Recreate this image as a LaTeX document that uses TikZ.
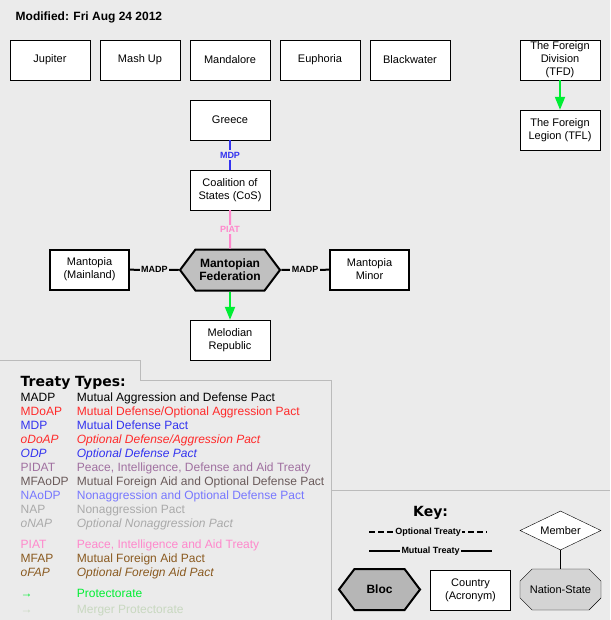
\documentclass[tikz,border=0pt]{standalone}
\usepackage{fontspec}
\setmainfont{Liberation Sans}
\newfontfamily\keyfont{DejaVu Sans}
\usetikzlibrary{shapes.symbols,shapes.geometric,shapes.misc,arrows.meta}
\definecolor{bg}{HTML}{EBEBEB}
\definecolor{panelgray}{HTML}{BBBBBB}
\definecolor{blocgray}{HTML}{C0C0C0}
\definecolor{stategray}{HTML}{D4D4D4}
\definecolor{mdoapred}{HTML}{FF2A2A}
\definecolor{mdpblue}{HTML}{3333F0}
\definecolor{pidatpurple}{HTML}{A070A0}
\definecolor{mfaodpbrown}{HTML}{6A5A5A}
\definecolor{naodpblue}{HTML}{7777FF}
\definecolor{napgray}{HTML}{AAAAAA}
\definecolor{piatpink}{HTML}{FF88CC}
\definecolor{mfapbrown}{HTML}{8A5A20}
\definecolor{protgreen}{HTML}{00EE33}
\definecolor{mergergreen}{HTML}{C8D8C0}
\begin{document}
\begin{tikzpicture}[x=1pt,y=-1pt,
  country/.style={draw,fill=white,minimum width=80,minimum height=40,inner sep=0,align=center,font=\fontsize{11}{13}\selectfont},
  bloc/.style={signal,signal to=east and west,signal pointer angle=106,draw,line width=2,fill=blocgray,minimum width=100,minimum height=41,inner sep=0,align=center,font=\bfseries\fontsize{12}{13}\selectfont},
  state/.style={chamfered rectangle,chamfered rectangle xsep=7,chamfered rectangle ysep=8,draw,fill=stategray,minimum width=81,minimum height=41,inner sep=0,font=\fontsize{11}{13}\selectfont},
  member/.style={diamond,draw,fill=white,aspect=2,minimum width=81,minimum height=39,inner sep=0,font=\fontsize{11}{13}\selectfont},
  treaty/.style={fill=bg,inner sep=1.5,font=\bfseries\fontsize{9}{10}\selectfont},
  protect/.style={draw=protgreen,line width=2,-{Triangle[length=13,width=10]}},
  panel/.style={draw=panelgray,line width=1},
  abbr/.style={anchor=base west,inner sep=0,font=\fontsize{12}{14}\selectfont},
  title/.style={anchor=base west,inner sep=0,font=\keyfont\bfseries\fontsize{14}{16}\selectfont}]
  \fill[bg] (0,0) rectangle (610,620);
  \useasboundingbox (0,0) rectangle (610,620);
  % legend panels
  \draw[panel] (0,360) -- (140.5,360) -- (140.5,380) -- (331,380) -- (331,620);
  \draw[panel] (331,490) -- (610,490);
  \node (modified) [anchor=base west,inner sep=0,font=\bfseries\fontsize{12}{14}\selectfont] at (15.5,21) {Modified: Fri Aug 24 2012};
  % top row
  \node (jupiter) [country] at (50,60) {Jupiter};
  \node (mashup) [country] at (140,60) {Mash Up};
  \node (mandalore) [country] at (230,60) {Mandalore};
  \node (euphoria) [country] at (320,60) {Euphoria};
  \node (blackwater) [country] at (410,60) {Blackwater};
  \node (tfd) [country] at (560,60) {The Foreign\\Division\\(TFD)};
  \node (tfl) [country] at (560,130) {The Foreign\\Legion (TFL)};
  % federation
  \node (greece) [country] at (230,120) {Greece};
  \node (cos) [country] at (230,190) {Coalition of\\States (CoS)};
  \node (fed) [bloc] at (230,270) {Mantopian\\Federation};
  \node (mainland) [country,line width=2,minimum width=79] at (89.5,269.5) {Mantopia\\(Mainland)};
  \node (minor) [country,line width=2,minimum width=79] at (369.5,269.5) {Mantopia\\Minor};
  \node (melodian) [country] at (230,340) {Melodian\\Republic};
  \draw[draw=mdpblue,line width=2] (greece) -- node[treaty,text=mdpblue] {MDP} (cos);
  \draw[draw=piatpink,line width=2] (cos) -- node[treaty,text=piatpink] {PIAT} (fed);
  \draw[line width=2] (mainland) -- node[treaty] {MADP} (fed.west);
  \draw[line width=2] (fed.east) -- node[treaty] {MADP} (minor);
  \draw[protect] (fed.south) -- (melodian.north);
  \draw[protect] (tfd.south) -- (tfl.north);
  % treaty types
  \node (types) [title] at (20.5,386) {Treaty Types:};
  \node (madp) [abbr] at (20.5,401) {MADP};
  \node (madpd) [abbr] at (76.7,401) {Mutual Aggression and Defense Pact};
  \node (mdoap) [abbr,text=mdoapred] at (20.5,415.1) {MDoAP};
  \node (mdoapd) [abbr,text=mdoapred] at (76.7,415.1) {Mutual Defense/Optional Aggression Pact};
  \node (mdp) [abbr,text=mdpblue] at (20.5,429.2) {MDP};
  \node (mdpd) [abbr,text=mdpblue] at (76.7,429.2) {Mutual Defense Pact};
  \node (odoap) [abbr,text=mdoapred] at (20.5,443.3) {\itshape oDoAP};
  \node (odoapd) [abbr,text=mdoapred] at (76.7,443.3) {\itshape Optional Defense/Aggression Pact};
  \node (odp) [abbr,text=mdpblue] at (20.5,457.4) {\itshape ODP};
  \node (odpd) [abbr,text=mdpblue] at (76.7,457.4) {\itshape Optional Defense Pact};
  \node (pidat) [abbr,text=pidatpurple] at (20.5,471.5) {PIDAT};
  \node (pidatd) [abbr,text=pidatpurple] at (76.7,471.5) {Peace, Intelligence, Defense and Aid Treaty};
  \node (mfaodp) [abbr,text=mfaodpbrown] at (20.5,485.6) {MFAoDP};
  \node (mfaodpd) [abbr,text=mfaodpbrown] at (76.7,485.6) {Mutual Foreign Aid and Optional Defense Pact};
  \node (naodp) [abbr,text=naodpblue] at (20.5,499.7) {NAoDP};
  \node (naodpd) [abbr,text=naodpblue] at (76.7,499.7) {Nonaggression and Optional Defense Pact};
  \node (nap) [abbr,text=napgray] at (20.5,513.8) {NAP};
  \node (napd) [abbr,text=napgray] at (76.7,513.8) {Nonaggression Pact};
  \node (onap) [abbr,text=napgray] at (20.5,527.9) {\itshape oNAP};
  \node (onapd) [abbr,text=napgray] at (76.7,527.9) {\itshape Optional Nonaggression Pact};
  \node (piat) [abbr,text=piatpink] at (20.5,548) {PIAT};
  \node (piatd) [abbr,text=piatpink] at (76.7,548) {Peace, Intelligence and Aid Treaty};
  \node (mfap) [abbr,text=mfapbrown] at (20.5,562) {MFAP};
  \node (mfapd) [abbr,text=mfapbrown] at (76.7,562) {Mutual Foreign Aid Pact};
  \node (ofap) [abbr,text=mfapbrown] at (20.5,576) {\itshape oFAP};
  \node (ofapd) [abbr,text=mfapbrown] at (76.7,576) {\itshape Optional Foreign Aid Pact};
  \node (prot) [abbr,text=protgreen] at (20.5,597.7) {→};
  \node (protd) [abbr,text=protgreen] at (76.7,597.7) {Protectorate};
  \node (merger) [abbr,text=mergergreen] at (20.5,613) {→};
  \node (mergerd) [abbr,text=mergergreen] at (76.7,613) {Merger Protectorate};
  % key
  \node (key) [title] at (413,516) {Key:};
  \coordinate (opt a) at (369,532);
  \coordinate (opt b) at (487,532);
  \coordinate (mut a) at (369,551);
  \coordinate (mut b) at (492,551);
  \draw[line width=2,dash pattern=on 6 off 3] (opt a) -- node[treaty] {Optional Treaty} (opt b);
  \draw[line width=2] (mut a) -- node[treaty] {Mutual Treaty} (mut b);
  \node (blocdemo) [bloc,minimum width=81,fill=blocgray!95!black] at (379.5,589.5) {Bloc};
  \node (acronym) [country] at (470.5,590) {Country\\(Acronym)};
  \node (nation) [state] at (560.5,589.5) {Nation-State};
  \node (member) [member] at (560.5,530.5) {Member};
  \draw (member) -- (nation);
\end{tikzpicture}
\end{document}
